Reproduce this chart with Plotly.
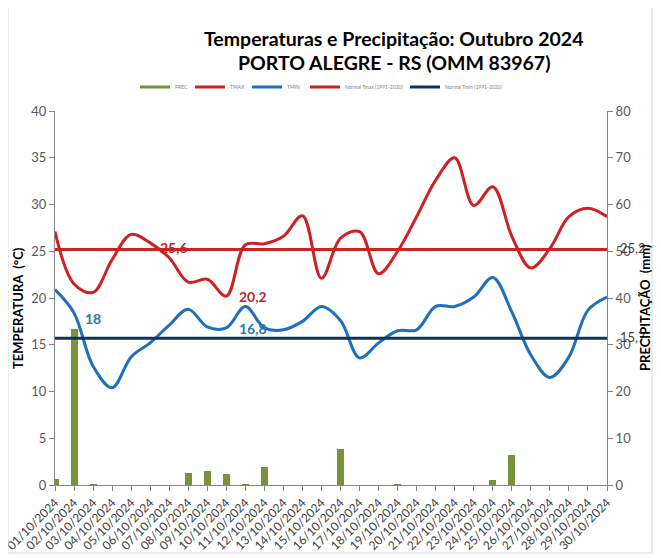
import plotly.graph_objects as go

dates = [f"{d:02d}/10/2024" for d in range(1, 31)]
prec = [1.2, 33.4, 0.1, 0, 0, 0, 0, 2.6, 3.0, 2.4, 0.1, 3.8, 0, 0, 0, 7.7, 0, 0, 0.1, 0,
        0, 0, 0, 1.0, 6.4, 0, 0, 0, 0, 0]
tmax = [27.1, 21.5, 20.6, 24.1, 26.8, 25.9, 24.3, 21.7, 22.0, 20.2,
        25.7, 25.8, 26.6, 28.8, 22.1, 26.4, 27.1, 22.6, 25.0, 28.7,
        32.6, 35.0, 29.9, 31.9, 26.6, 23.2, 25.3, 28.7, 29.6, 28.7]
tmin = [20.9, 18.4, 12.7, 10.4, 13.7, 15.2, 17.1, 18.8, 16.9, 16.8,
        19.1, 16.8, 16.6, 17.5, 19.1, 17.6, 13.6, 15.2, 16.5, 16.6,
        19.1, 19.1, 20.1, 22.2, 18.5, 13.9, 11.5, 13.7, 18.7, 20.1]
normal_tmax = 25.2
normal_tmin = 15.7
legend_names = ["PREC", "TMAX", "TMIN", "Normal Tmax (1991-2020)", "Normal Tmin (1991-2020)"]
# highlighted values: (day index, value, text, series)
highlights = [(6.25, 25.45, "25,6", "max"), (10.4, 20.2, "20,2", "max"),
              (1.99, 17.86, "18", "min"), (10.4, 16.7, "16,8", "min")]

# page body has an 8px margin: figure is drawn offset by (8, 8) in the window
OFF = 8
W, H = 661 - OFF, 558 - OFF
ML, MR, MT, MB = 55 - OFF, 54, 111 - OFF, 73
PW, PH = W - ML - MR, H - MT - MB


def px_x(px):  # window pixel -> paper x
    return (px - OFF - ML) / PW


def px_y(py):  # window pixel -> paper y
    return (H - MB - (py - OFF)) / PH


x = list(range(len(dates)))
C_BAR = "#77933C"
C_MAX = "#CC2222"
C_MIN = "#1F6FBA"
C_NMIN = "#0E3558"
FONT = "Lato"

legend_px = [135, 190, 247, 305, 405]
legend_y_px = 87
legend_ids = ["legend", "legend2", "legend3", "legend4", "legend5"]

fig = go.Figure()
fig.add_trace(go.Bar(x=x, y=prec, width=0.37, marker=dict(color=C_BAR, line=dict(width=0)),
                     yaxis="y", showlegend=False, name=legend_names[0]))
fig.add_trace(go.Scatter(x=[None], y=[None], mode="lines", line=dict(color=C_BAR, width=3),
                         name=legend_names[0], yaxis="y2", legend=legend_ids[0]))
fig.add_trace(go.Scatter(x=x, y=tmax, mode="lines", line=dict(color=C_MAX, width=3, shape="spline", smoothing=1),
                         name=legend_names[1], yaxis="y2", legend=legend_ids[1]))
fig.add_trace(go.Scatter(x=x, y=tmin, mode="lines", line=dict(color=C_MIN, width=3, shape="spline", smoothing=1),
                         name=legend_names[2], yaxis="y2", legend=legend_ids[2]))
fig.add_trace(go.Scatter(x=x, y=[normal_tmax] * len(x), mode="lines", line=dict(color=C_MAX, width=3),
                         name=legend_names[3], yaxis="y2", legend=legend_ids[3]))
fig.add_trace(go.Scatter(x=x, y=[normal_tmin] * len(x), mode="lines", line=dict(color=C_NMIN, width=3),
                         name=legend_names[4], yaxis="y2", legend=legend_ids[4]))

annotations = []
for xi, yi, txt, s in highlights:
    annotations.append(dict(x=xi, y=yi, xref="x", yref="y2", text=f"<b>{txt}</b>", showarrow=False,
                            xanchor="center", yanchor="middle",
                            font=dict(family=FONT, size=14, color="#C0282D" if s == "max" else "#2E74B5")))
for val in (normal_tmax, normal_tmin):
    annotations.append(dict(x=x[-1], y=val, xref="x", yref="y2", text=f"{val:.1f}".replace(".", ","),
                            showarrow=False, xanchor="left", yanchor="middle", xshift=11, yshift=1,
                            font=dict(family=FONT, size=13, color="#404040")))
annotations += [
    dict(x=px_x(394), y=px_y(38), xref="paper", yref="paper", showarrow=False,
         xanchor="center", yanchor="middle",
         text="<b>Temperaturas e Precipitação: Outubro 2024</b>", font=dict(family=FONT, size=19.5, color="black")),
    dict(x=px_x(394), y=px_y(63), xref="paper", yref="paper", showarrow=False,
         xanchor="center", yanchor="middle",
         text="<b>PORTO ALEGRE - RS (OMM 83967)</b>", font=dict(family=FONT, size=19.5, color="black")),
    dict(x=px_x(18), y=px_y(308), xref="paper", yref="paper", showarrow=False, textangle=-90,
         xanchor="center", yanchor="middle",
         text="<b>TEMPERATURA  (°C)</b>", font=dict(family=FONT, size=13, color="black")),
    dict(x=px_x(645), y=px_y(308), xref="paper", yref="paper", showarrow=False, textangle=-90,
         xanchor="center", yanchor="middle",
         text="<b>PRECIPITAÇÃO  (mm)</b>", font=dict(family=FONT, size=13, color="black")),
]

axis_common = dict(showgrid=False, zeroline=False, showline=True, linecolor="#868686", linewidth=1,
                   ticks="outside", ticklen=5, tickcolor="#868686", automargin=False,
                   tickfont=dict(family=FONT, size=13, color="#595959"))

layout_legends = {}
for lid, px in zip(legend_ids, legend_px):
    layout_legends[lid] = dict(orientation="h", x=(px - OFF) / W, xanchor="left", xref="container",
                               y=1 - (legend_y_px - OFF) / H, yanchor="middle", yref="container",
                               font=dict(family=FONT, size=5, color="#7F7F7F"),
                               bgcolor="rgba(0,0,0,0)", borderwidth=0)

fig.update_layout(
    width=W, height=H, autosize=False,
    paper_bgcolor="white", plot_bgcolor="white",
    margin=dict(l=ML, r=MR, t=MT, b=MB),
    xaxis=dict(range=[0, len(x) - 1], tickvals=x, ticktext=dates, tickangle=-45,
               ticklabeloverflow="allow",
               showgrid=False, zeroline=False, showline=True, linecolor="#868686", automargin=False,
               ticks="outside", ticklen=5, tickcolor="#868686",
               tickfont=dict(family=FONT, size=12, color="#404040")),
    yaxis=dict(range=[0, 80], dtick=10, side="right", **axis_common),
    yaxis2=dict(range=[0, 40], dtick=5, side="left", overlaying="y", **axis_common),
    annotations=annotations,
    shapes=[dict(type="rect", xref="paper", yref="paper", x0=px_x(8), x1=px_x(652), y0=px_y(553), y1=px_y(5),
                 line=dict(color="#D9D9D9", width=1), fillcolor="rgba(0,0,0,0)")],
    bargap=0,
    **layout_legends,
)

fig.write_html("out.html")
